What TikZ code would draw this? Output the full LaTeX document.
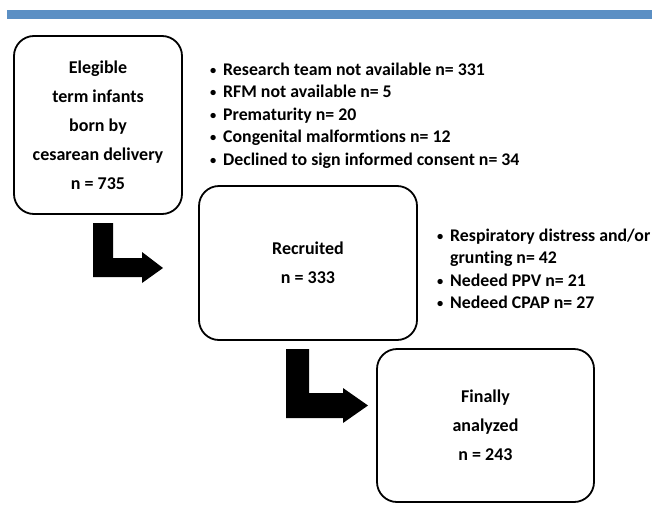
\documentclass[tikz,border=0pt]{standalone}
\usepackage{graphicx}
\usepackage{fontspec}
\setmainfont[Ligatures=NoCommon]{Carlito}
\definecolor{barblue}{HTML}{5B8FC4}
\tikzset{
  flowbox/.style={draw=black, line width=1.8pt, rounded corners=20pt, align=center,
    font=\bfseries\fontsize{18}{29}\selectfont, inner sep=0pt},
  bulletlist/.style={anchor=base west, inner sep=0pt, align=left,
    font=\bfseries\fontsize{17.8}{22.5}\selectfont},
  bigarrow/.style={fill=black, draw=none}
}
\newcommand{\bul}{\makebox[20pt][c]{\raisebox{0.8pt}{\scalebox{0.7}{•}}}}
\begin{document}
\begin{tikzpicture}[x=1pt,y=-1pt]
\useasboundingbox (0,0) rectangle (652,514);
\fill[barblue] (7,10) rectangle (652,19);

\node[flowbox, minimum width=168pt, minimum height=178pt] (elig) at (98,125)
  {Elegible\\term infants\\born by\\cesarean delivery\\n = 735};
\node[flowbox, minimum width=218pt, minimum height=154pt] (recr) at (308,263)
  {Recruited\\n = 333};
\node[flowbox, minimum width=217pt, minimum height=153pt] (final) at (485.5,425.5)
  {Finally\\analyzed\\n = 243};

\node[bulletlist] (excl1) at (203,165)
  {\bul Research team not available n= 331\\
   \bul RFM not available n= 5\\
   \bul Prematurity n= 20\\
   \bul Congenital malformtions n= 12\\
   \bul Declined to sign informed consent n= 34};
\node[bulletlist] (excl2) at (430,308.5)
  {\bul Respiratory distress and/or\\
   \hspace*{20pt}grunting n= 42\\
   \bul Nedeed PPV n= 21\\
   \bul Nedeed CPAP n= 27};

\fill[bigarrow] (93,223) -- (113,223) -- (113,258) -- (142,258) -- (142,252)
  -- (163,268) -- (142,283) -- (142,277) -- (93,277) -- cycle;
\fill[bigarrow] (286,349) -- (309,349) -- (309,393) -- (343,393) -- (343,388)
  -- (368,405.5) -- (343,423) -- (343,418) -- (286,418) -- cycle;
\end{tikzpicture}
\end{document}
